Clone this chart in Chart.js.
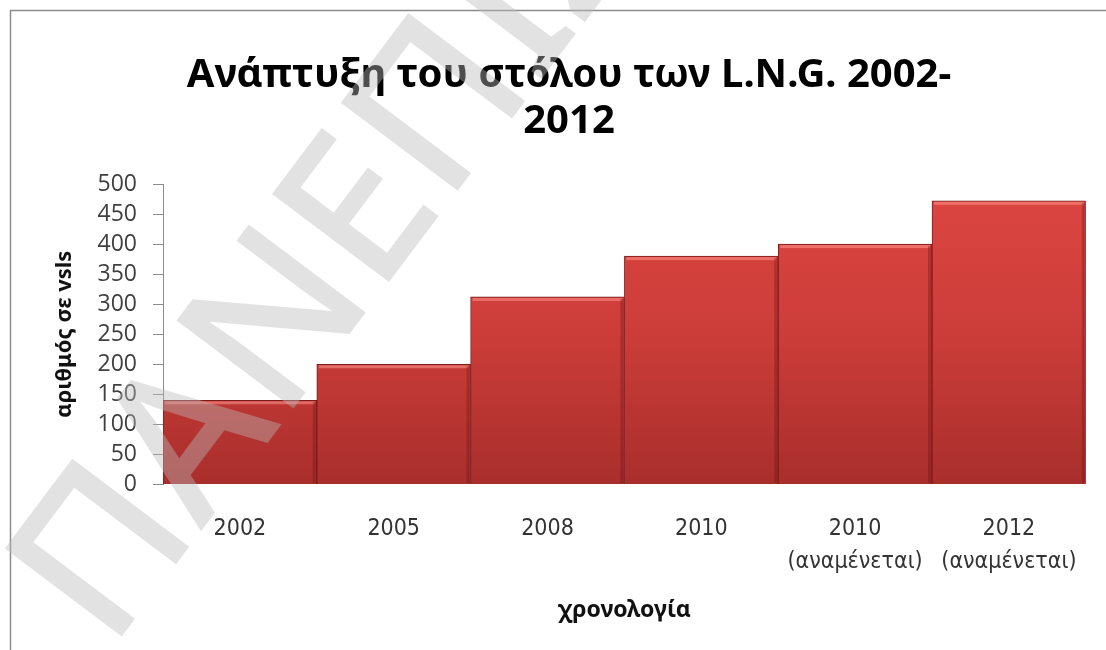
<!DOCTYPE html>
<html>
<head>
<meta charset="utf-8">
<script src="https://cdn.jsdelivr.net/npm/chart.js@4/dist/chart.umd.min.js"></script>
<style>
  html, body { margin: 0; padding: 0; background: #fff; }
  #wrap { width: 1106px; height: 650px; position: relative; }
</style>
</head>
<body>
<div id="wrap"><canvas id="fleetChart" width="1106" height="650"></canvas></div>
<script>
// chart data
const titleLines = ['Ανάπτυξη του στόλου των L.N.G. 2002-', '2012'];
const categories = ['2002', '2005', '2008', '2010', '2010 (αναμένεται)', '2012 (αναμένεται)'];
const vessels = [140, 200, 312, 380, 400, 472];
const yMin = 0;
const yMax = 500;
const yStep = 50;
const yTitle = 'αριθμός σε vsls';
const xTitle = 'χρονολογία';
const watermark = 'ΠΑΝΕΠΙΣΤΗΜΙΟ';

// split "2010 (αναμένεται)" into two lines
const xLabels = categories.map((c) => c.split(' '));

// frame round the chart (only top and left edge show)
const framePlugin = {
  id: 'frame',
  beforeDraw(chart) {
    const ctx = chart.ctx;
    ctx.save();
    ctx.fillStyle = '#fff';
    ctx.fillRect(0, 0, chart.width, chart.height);
    ctx.strokeStyle = '#8c8c8c';
    ctx.lineWidth = 1.5;
    ctx.strokeRect(10.5, 10.5, 1300, 1000);
    ctx.restore();
  }
};

// light bevel along the top of each bar, taken from the bar elements
const bevelPlugin = {
  id: 'bevel',
  afterDatasetsDraw(chart) {
    const ctx = chart.ctx;
    const bars = chart.getDatasetMeta(0).data;
    ctx.save();
    bars.forEach(function(bar) {
      const half = bar.width / 2;
      ctx.fillStyle = 'rgba(255, 150, 140, 0.55)';
      ctx.fillRect(bar.x - half + 2, bar.y + 1, bar.width - 4, 3);
      ctx.fillStyle = 'rgba(110, 20, 20, 0.35)';
      ctx.fillRect(bar.x + half - 4, bar.y + 2, 3, bar.base - bar.y - 3);
    });
    ctx.restore();
  }
};

// faint diagonal watermark on top of everything
const watermarkPlugin = {
  id: 'watermark',
  afterDraw(chart) {
    const ctx = chart.ctx;
    ctx.save();
    ctx.translate(110, 652);
    ctx.rotate(-53 * Math.PI / 180);
    ctx.font = '500 205px "Noto Sans"';
    ctx.textBaseline = 'alphabetic';
    ctx.fillStyle = 'rgba(185, 185, 185, 0.42)';
    ctx.fillText(watermark, 0, 0);
    ctx.restore();
  }
};

const ctx = document.getElementById('fleetChart').getContext('2d');

function barGradient(context) {
  const area = context.chart.chartArea;
  if (!area) {
    return '#c83a36';
  }
  const g = context.chart.ctx.createLinearGradient(0, area.top, 0, area.bottom);
  g.addColorStop(0, '#dd4642');
  g.addColorStop(0.5, '#cc3d39');
  g.addColorStop(1, '#a82e2c');
  return g;
}

const fleetChart = new Chart(ctx, {
  type: 'bar',
  data: {
    labels: xLabels,
    datasets: [
      {
        label: yTitle,
        data: vessels,
        backgroundColor: barGradient,
        borderColor: '#7a1b1b',
        borderWidth: 1,
        barPercentage: 1,
        categoryPercentage: 1,
      },
    ],
  },
  options: {
    responsive: false,
    animation: false,
    layout: {
      padding: { left: 50, right: 18, top: 0, bottom: 26 },
    },
    plugins: {
      legend: { display: false },
      tooltip: { enabled: false },
      title: {
        display: true,
        text: titleLines,
        color: '#000',
        font: { family: '"Noto Sans"', size: 40, weight: 'bold', lineHeight: 1.15 },
        padding: { top: 53, bottom: 39 },
      },
    },
    scales: {
      x: {
        grid: { display: false, drawTicks: false },
        border: { display: false },
        ticks: {
          color: '#333',
          padding: 28,
          maxRotation: 0,
          autoSkip: false,
          font: { family: '"DejaVu Sans Condensed", "DejaVu Sans"', size: 23, lineHeight: 1.435 },
        },
        title: {
          display: true,
          text: xTitle,
          color: '#111',
          font: { family: '"Noto Sans"', size: 23, weight: 'bold', lineHeight: 1.2 },
          padding: { top: -10, bottom: 0 },
        },
      },
      y: {
        min: yMin,
        max: yMax,
        afterFit(scale) {
          scale.width = 113;
        },
        grid: {
          drawOnChartArea: false,
          drawTicks: true,
          tickLength: 10,
          color: '#8c8c8c',
        },
        border: { display: true, color: '#8c8c8c', width: 1 },
        ticks: {
          stepSize: yStep,
          autoSkip: false,
          color: '#404040',
          padding: 16,
          font: { family: '"Open Sans"', size: 23, lineHeight: 1 },
        },
        title: {
          display: true,
          text: yTitle,
          color: '#111',
          font: { family: '"Noto Sans"', size: 22, weight: 'bold', lineHeight: 1.2 },
          padding: { top: 2, bottom: 0 },
        },
      },
    },
  },
  plugins: [framePlugin, bevelPlugin, watermarkPlugin],
});
</script>
</body>
</html>
